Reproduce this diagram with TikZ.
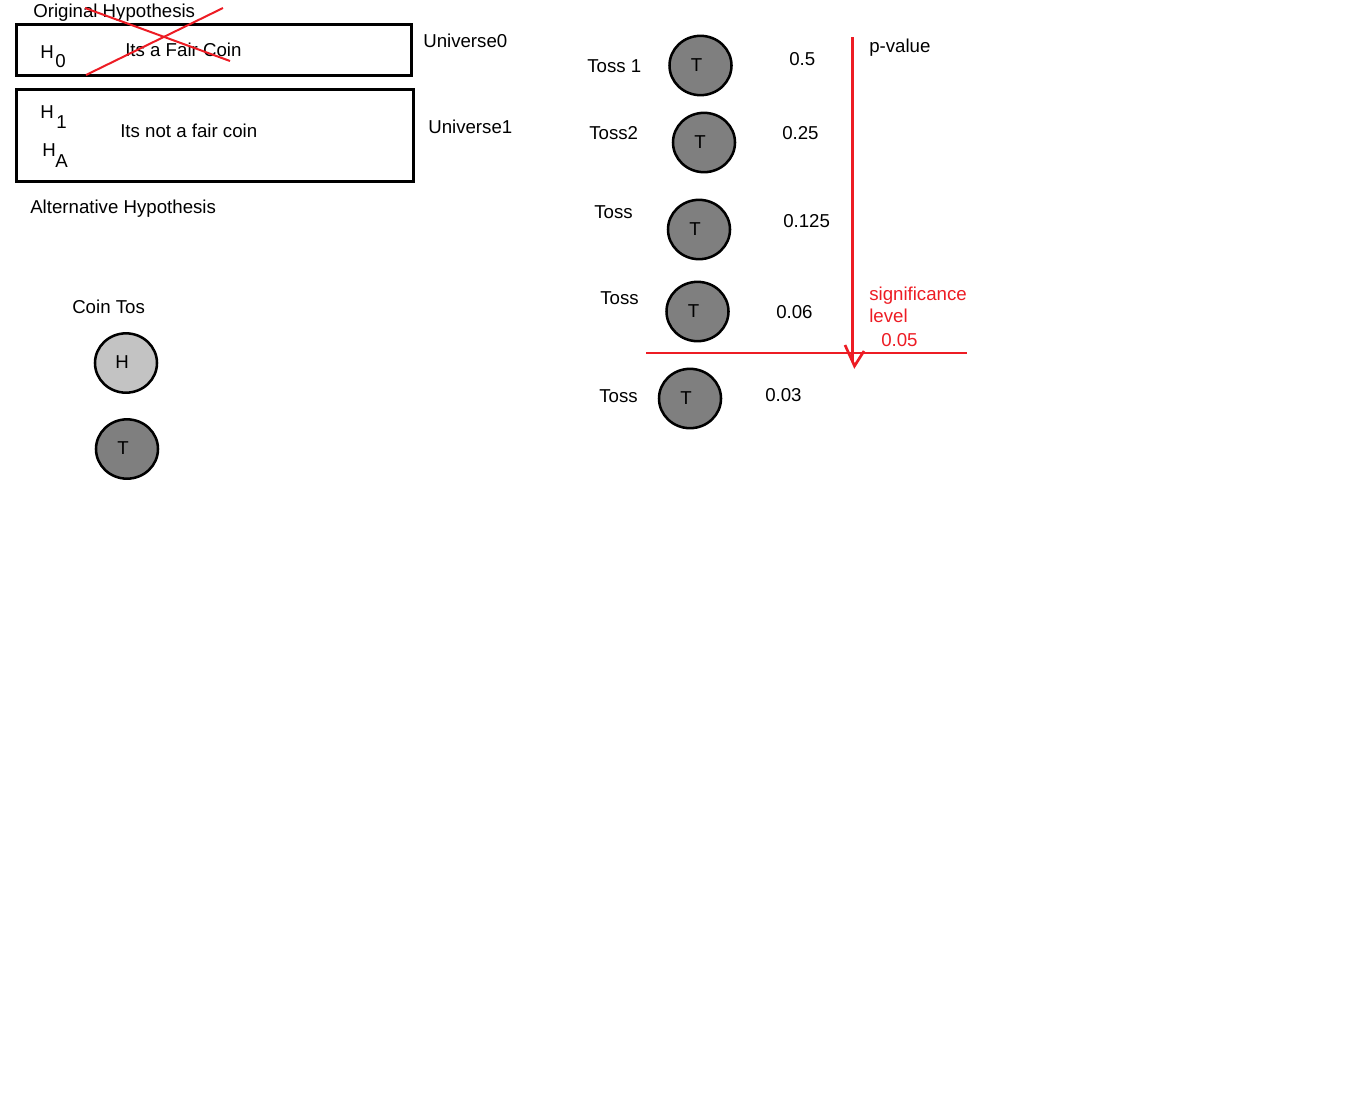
\documentclass[tikz,border=0pt]{standalone}
\usepackage{fontspec}
\setmainfont{Liberation Sans}
\usetikzlibrary{shapes.geometric}
\definecolor{pred}{HTML}{ED1C24}
\definecolor{lightcoin}{HTML}{C3C3C3}
\definecolor{darkcoin}{HTML}{7F7F7F}
% coin face letter, set a little left of and above the centre
\newcommand{\face}[1]{\raisebox{1.2pt}{#1}\kern6pt\relax}
\begin{document}
\begin{tikzpicture}[x=0.75pt,y=-0.75pt,
  txt/.style={anchor=base west,inner sep=0pt,font=\fontsize{14}{17}\selectfont},
  rtxt/.style={txt,text=pred},
  hbox/.style={draw,line width=2.25pt,rectangle,inner sep=0pt},
  coin/.style={draw,ellipse,line width=1.9pt,minimum width=46.5pt,minimum height=44.5pt,inner sep=0pt,font=\fontsize{14}{17}\selectfont},
  headcoin/.style={coin,fill=lightcoin},
  tailcoin/.style={coin,fill=darkcoin},
  redline/.style={draw=pred,line width=2pt},
  cross/.style={draw=pred,line width=1.5pt}]
\useasboundingbox (0,0) rectangle (1362,1114);

% hypothesis boxes
\node[hbox,minimum width=296.25pt,minimum height=38.25pt] (box0) at (214,50) {};
\node[hbox,minimum width=297.75pt,minimum height=69pt] (box1) at (215,135.5) {};

\node[txt] (orig) at (33,17) {Original Hypothesis};
\node[txt] (h0) at (40,58) {H};
\node[txt] (h0sub) at (55,67) {0};
\node[txt] (fair) at (125,56) {Its a Fair Coin};
\node[txt] (u0) at (423,47) {Universe0};

% crossed-out null hypothesis
\coordinate (xa1) at (85,8);
\coordinate (xa2) at (230,61);
\coordinate (xb1) at (223,8);
\coordinate (xb2) at (86,75);
\draw[cross] (xa1) -- (xa2);
\draw[cross] (xb1) -- (xb2);

\node[txt] (h1) at (40,118) {H};
\node[txt] (h1sub) at (56,128) {1};
\node[txt] (ha) at (42,156) {H};
\node[txt] (hasub) at (55,167) {A};
\node[txt] (notfair) at (120,137) {Its not a fair coin};
\node[txt] (u1) at (428,133) {Universe1};
\node[txt] (alt) at (30,213) {Alternative Hypothesis};

% coin legend
\node[txt] (cointos) at (72,313) {Coin Tos};
\node[headcoin] (heads) at (126,363) {\face{H}};
\node[tailcoin] (tails) at (127,449) {\face{T}};

% sequence of tosses
\node[txt] (toss1) at (587,72) {Toss 1};
\node[tailcoin] (c1) at (700.5,65.5) {\face{T}};
\node[txt] (p1) at (789,65) {0.5};

\node[txt] (toss2) at (589,139) {Toss2};
\node[tailcoin] (c2) at (704,142.5) {\face{T}};
\node[txt] (p2) at (782,139) {0.25};

\node[txt] (toss3) at (594,218) {Toss};
\node[tailcoin] (c3) at (699,229.5) {\face{T}};
\node[txt] (p3) at (783,227) {0.125};

\node[txt] (toss4) at (600,304) {Toss};
\node[tailcoin] (c4) at (697.5,311.5) {\face{T}};
\node[txt] (p4) at (776,318) {0.06};

\node[txt] (toss5) at (599,402) {Toss};
\node[tailcoin] (c5) at (690,398.5) {\face{T}};
\node[txt] (p5) at (765,401) {0.03};

% p-value arrow and significance threshold
\node[txt] (pval) at (869,52) {p-value};
\coordinate (ptop) at (852.5,37);
\coordinate (pend) at (852.5,362);
\coordinate (ptip) at (854.5,366);
\coordinate (parmL) at (845,345);
\coordinate (parmR) at (864,351);
\draw[redline] (ptop) -- (pend);
\draw[redline,line join=miter] (parmL) -- (ptip) -- (parmR);

\coordinate (sigL) at (646,353);
\coordinate (sigR) at (967,353);
\draw[redline] (sigL) -- (sigR);
\node[rtxt] (sig1) at (869,300) {significance};
\node[rtxt] (sig2) at (869,322) {level};
\node[rtxt] (sig3) at (881,346) {0.05};
\end{tikzpicture}
\end{document}
